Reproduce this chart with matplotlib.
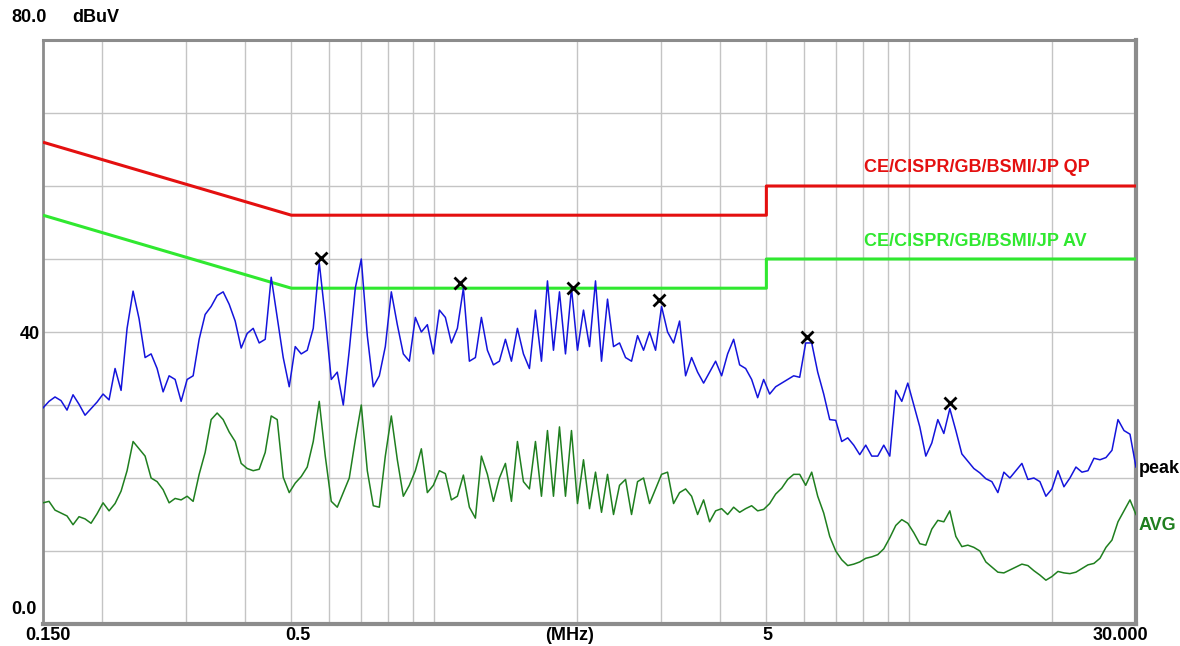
import numpy as np
import matplotlib
matplotlib.use("Agg")
import matplotlib.pyplot as plt

# ---------------- data ----------------
peak = [29.6, 30.5, 31.1, 30.6, 29.3, 31.4, 30.1, 28.6, 29.5, 30.4,
        31.5, 30.7, 35.0, 32.0, 40.5, 45.6, 41.8, 36.5, 37.0, 35.0,
        31.8, 34.0, 33.5, 30.5, 33.5, 34.0, 39.0, 42.4, 43.5, 45.0,
        45.5, 43.8, 41.5, 37.8, 39.8, 40.5, 38.5, 39.0, 47.5, 42.0,
        36.5, 32.5, 38.0, 37.0, 37.5, 40.5, 49.5, 42.0, 33.5, 34.5,
        30.0, 37.5, 46.0, 50.0, 39.5, 32.5, 34.0, 38.0, 45.5, 41.0,
        37.0, 36.0, 42.0, 40.0, 41.0, 37.0, 43.0, 42.0, 38.5, 40.5,
        46.0, 36.0, 36.5, 42.0, 37.5, 35.5, 36.0, 39.0, 36.0, 40.5,
        37.0, 35.0, 43.0, 36.0, 47.0, 37.5, 45.5, 37.0, 46.0, 37.5,
        43.0, 38.0, 47.0, 36.0, 44.5, 38.0, 38.5, 36.5, 36.0, 39.5,
        37.5, 40.0, 37.5, 43.5, 40.0, 38.5, 41.5, 34.0, 36.5, 34.5,
        33.0, 34.5, 36.0, 34.0, 37.0, 39.0, 35.5, 35.0, 33.5, 31.0,
        33.5, 31.5, 32.5, 33.0, 33.5, 34.0, 33.8, 38.5, 38.5, 34.5,
        31.5, 28.0, 27.9, 25.0, 25.5, 24.5, 23.2, 24.5, 23.0, 23.0,
        24.5, 23.0, 32.0, 30.5, 33.0, 30.0, 27.0, 23.0, 24.8, 28.0,
        26.1, 29.5, 26.5, 23.3, 22.3, 21.3, 20.7, 19.9, 19.5, 18.0,
        20.8, 20.0, 21.0, 22.0, 19.8, 20.0, 19.5, 17.5, 18.5, 21.0,
        18.8, 20.0, 21.5, 20.8, 21.0, 22.7, 22.5, 22.8, 23.8, 28.0,
        26.5, 26.0, 21.5]

avg = [16.6, 16.8, 15.6, 15.2, 14.8, 13.6, 14.7, 14.4, 13.8, 15.1,
       16.6, 15.5, 16.5, 18.2, 21.0, 25.0, 24.0, 23.0, 20.0, 19.5,
       18.4, 16.6, 17.2, 17.0, 17.5, 16.8, 20.5, 23.5, 28.0, 28.9,
       28.0, 26.3, 25.0, 22.0, 21.3, 21.0, 21.2, 23.5, 28.5, 28.0,
       20.1, 18.0, 19.3, 20.2, 21.5, 25.0, 30.5, 23.0, 16.8, 16.0,
       18.0, 20.0, 25.2, 30.0, 21.0, 16.2, 16.0, 23.0, 28.5, 22.5,
       17.5, 19.0, 21.0, 24.0, 18.0, 19.0, 21.0, 20.6, 17.0, 17.5,
       20.4, 16.0, 14.5, 23.0, 20.5, 16.8, 20.0, 22.0, 16.8, 25.0,
       19.5, 18.5, 25.0, 17.5, 26.5, 17.5, 27.0, 17.5, 26.5, 16.5,
       22.5, 15.8, 20.8, 15.3, 20.5, 15.0, 19.0, 19.8, 15.0, 19.5,
       20.0, 16.5, 18.5, 20.5, 20.8, 16.5, 18.0, 18.5, 17.5, 15.0,
       17.0, 14.0, 15.5, 15.8, 15.0, 16.0, 15.3, 15.8, 16.2, 15.5,
       15.7, 16.5, 17.8, 18.6, 19.8, 20.5, 20.5, 19.0, 20.8, 17.5,
       15.2, 12.0, 10.0, 8.8, 8.0, 8.2, 8.5, 9.0, 9.2, 9.5,
       10.3, 11.8, 13.5, 14.3, 13.8, 12.5, 11.0, 10.8, 13.0, 14.2,
       14.0, 15.5, 12.0, 10.6, 10.8, 10.5, 10.0, 8.5, 7.8, 7.1,
       7.0, 7.4, 7.8, 8.2, 8.0, 7.3, 6.7, 6.0, 6.5, 7.2,
       7.0, 6.9, 7.1, 7.6, 8.1, 8.3, 9.0, 10.5, 11.5, 14.0,
       15.5, 17.0, 15.0]

f_start, f_stop = 0.15, 30.0

qp_freq = [0.15, 0.5, 5.0, 5.0, 30.0]
qp_level = [66.0, 56.0, 56.0, 60.0, 60.0]
av_freq = [0.15, 0.5, 5.0, 5.0, 30.0]
av_level = [56.0, 46.0, 46.0, 50.0, 50.0]

marker_freq = [0.577, 1.135, 1.957, 2.97, 6.08, 12.19]
marker_level = [50.1, 46.7, 46.0, 44.4, 39.3, 30.3]

grid_freqs = [0.2, 0.3, 0.4, 0.5, 0.6, 0.7, 0.8, 0.9, 1, 2, 3, 4, 5, 6, 7, 8, 9, 10, 20]
grid_levels = [10, 20, 30, 40, 50, 60, 70]

x_labels = ["0.150", "0.5", "5", "30.000"]
x_label_freqs = [0.15, 0.5, 5.0, 30.0]
y_labels = ["0.0", "40"]
y_label_levels = [0.0, 40.0]

qp_name = "CE/CISPR/GB/BSMI/JP QP"
av_name = "CE/CISPR/GB/BSMI/JP AV"

# ---------------- figure ----------------
W, H = 1180, 646
fig = plt.figure(figsize=(W / 100, H / 100), dpi=100)
L, R, T, B = 43, 1136, 40, 624
ax = fig.add_axes([L / W, 1 - B / H, (R - L) / W, (B - T) / H])
ax.set_xscale("log")
ax.set_xlim(f_start, f_stop)
ax.set_ylim(0, 80)

for gf in grid_freqs:
    ax.axvline(gf, color="#c4c4c4", lw=1.0, zorder=0)
for gl in grid_levels:
    ax.axhline(gl, color="#c4c4c4", lw=1.0, zorder=0)

ax.set_xticks([])
ax.set_yticks([])
ax.minorticks_off()
ax.tick_params(which="both", length=0, labelbottom=False, labelleft=False)

for side, lw in (("top", 2.2), ("left", 2.0), ("right", 3.0), ("bottom", 3.0)):
    ax.spines[side].set_color("#8c8c8c")
    ax.spines[side].set_linewidth(lw)

freqs = np.geomspace(f_start, f_stop, len(peak))
ax.plot(qp_freq, qp_level, color="#e41010", lw=2.2, zorder=3, solid_capstyle="butt")
ax.plot(av_freq, av_level, color="#30e830", lw=2.2, zorder=3, solid_capstyle="butt")
ax.plot(freqs, avg, color="#1f7f1f", lw=1.1, zorder=4)
ax.plot(freqs, peak, color="#1414dc", lw=1.1, zorder=5)
ax.plot(marker_freq, marker_level, linestyle="none", marker="x", color="black",
        markersize=8.5, markeredgewidth=2.0, zorder=6)

fam = ["Liberation Sans", "DejaVu Sans"]
fs = 13
tr_x = ax.get_xaxis_transform()
tr_y = ax.get_yaxis_transform()
x_offsets = [5, 7, 1, -16]  # pixel nudges of the tick texts
for fv, txt, dx in zip(x_label_freqs, x_labels, x_offsets):
    ax.annotate(txt, (fv, 0), xycoords=tr_x, xytext=(dx, -3), textcoords="offset pixels",
                ha="center", va="top", fontsize=fs, fontweight="bold", family=fam)
ax.annotate("(MHz)", (0.482, 0), xycoords="axes fraction", xytext=(0, -3),
            textcoords="offset pixels", ha="center", va="top", fontsize=fs,
            fontweight="bold", family=fam)

for yv, txt in zip(y_label_levels, y_labels):
    ax.annotate(txt, (0, yv), xycoords=tr_y, xytext=(-32 if txt == "0.0" else -23, 15 if txt == "0.0" else -2),
                textcoords="offset pixels", ha="left", va="center", fontsize=fs,
                fontweight="bold", family=fam)
fig.text(11 / W, 1 - 18 / H, "80.0", ha="left", va="center", fontsize=fs,
         fontweight="bold", family=fam)
fig.text(72 / W, 1 - 18 / H, "dBuV", ha="left", va="center", fontsize=fs,
         fontweight="bold", family=fam)

ax.text(0.7515, 61.4, qp_name, transform=tr_y, ha="left", va="bottom",
        fontsize=fs, fontweight="bold", color="#e41010", family=fam)
ax.text(0.7515, 51.3, av_name, transform=tr_y, ha="left", va="bottom",
        fontsize=fs, fontweight="bold", color="#30e830", family=fam)
ax.annotate("peak", (1, 21.3), xycoords=tr_y, xytext=(3, 0), textcoords="offset pixels",
            ha="left", va="center", fontsize=fs, fontweight="bold", color="black", family=fam)
ax.annotate("AVG", (1, 13.5), xycoords=tr_y, xytext=(3, 0), textcoords="offset pixels",
            ha="left", va="center", fontsize=fs, fontweight="bold", color="#1f7f1f", family=fam)

fig.savefig("out.png", dpi=100, facecolor="white")
